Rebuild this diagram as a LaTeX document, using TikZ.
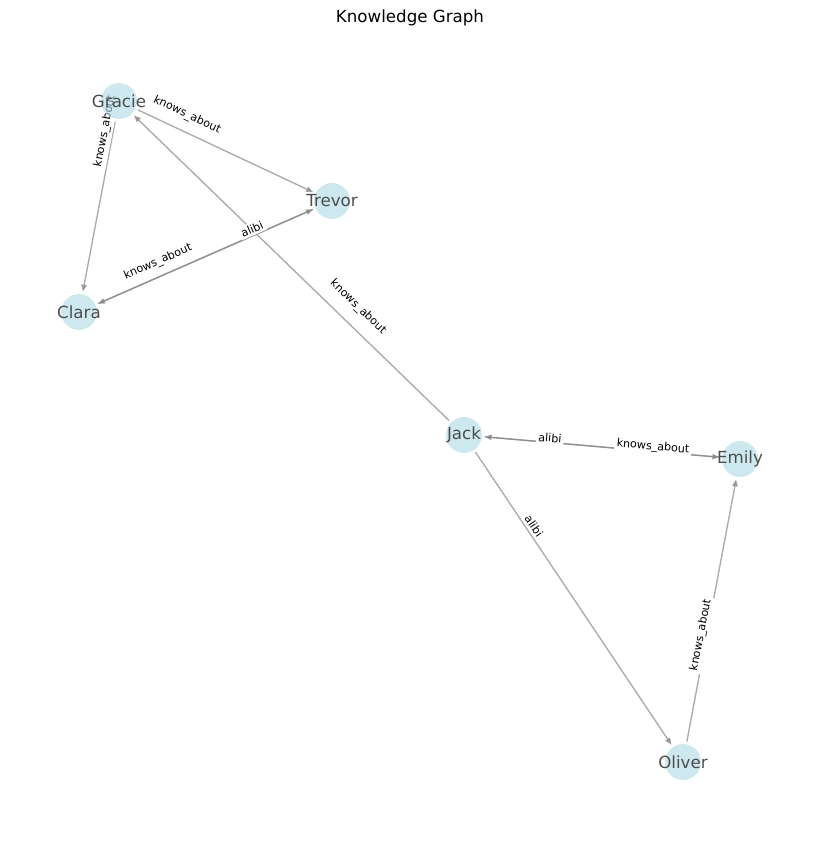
\documentclass[tikz,border=0pt]{standalone}
\usepackage{fontspec}
\setmainfont{DejaVu Sans}
\usetikzlibrary{arrows.meta}
\pgfdeclarelayer{background}
\pgfsetlayers{background,main}
\definecolor{nodeblue}{HTML}{ADD8E6}
\tikzset{
  person/.style={circle, fill=nodeblue, fill opacity=0.6, minimum size=25.9pt, inner sep=0pt, outer sep=2pt},
  nametext/.style={text=black!70, text opacity=1, font=\fontsize{12}{14}\selectfont},
  link/.style={draw=gray, opacity=0.65, line width=1pt, -{Triangle[length=5pt,width=4pt]}},
  elabel/.style={fill=white, inner sep=1.5pt, font=\fontsize{8}{9}\selectfont},
}
\begin{document}
\begin{tikzpicture}[x=0.72pt, y=-0.72pt]
  \useasboundingbox (0,0) rectangle (819,842);
  % Title
  \node[font=\fontsize{12}{14}\selectfont] (title) at (410,18) {Knowledge Graph};
  % People
  \node[person, label={[nametext]center:Gracie}] (gracie) at (119,101) {};
  \node[person, label={[nametext]center:Trevor}] (trevor) at (332,201) {};
  \node[person, label={[nametext]center:Clara}] (clara) at (79,312) {};
  \node[person, label={[nametext]center:Jack}] (jack) at (464,435) {};
  \node[person, label={[nametext]center:Emily}] (emily) at (740,459) {};
  \node[person, label={[nametext]center:Oliver}] (oliver) at (683,762) {};
  \begin{pgfonlayer}{background}
    % Relations
    \draw[link] (gracie) -- (trevor);
    \draw[link] (gracie) -- (clara);
    \draw[link] (clara) -- (trevor);
    \draw[link] (trevor) -- (clara);
    \draw[link] (jack) -- (gracie);
    \draw[link] (jack) -- (emily);
    \draw[link] (emily) -- (jack);
    \draw[link] (jack) -- (oliver);
    \draw[link] (oliver) -- (emily);
    % Relation labels
    \node[elabel, rotate=-25] (l-gt) at (187,115) {knows\_about};
    \node[elabel, rotate=79] (l-gc) at (105,131) {knows\_about};
    \node[elabel, rotate=23.7] (l-ct) at (158,262) {knows\_about};
    \node[elabel, rotate=23.7] (l-tc) at (252,229) {alibi};
    \node[elabel, rotate=-44] (l-jg) at (358,307) {knows\_about};
    \node[elabel, rotate=-5] (l-je) at (550,438) {alibi};
    \node[elabel, rotate=-5] (l-ej) at (653,447) {knows\_about};
    \node[elabel, rotate=-56] (l-jo) at (534,526) {alibi};
    \node[elabel, rotate=79] (l-oe) at (701,635) {knows\_about};
  \end{pgfonlayer}
\end{tikzpicture}
\end{document}
